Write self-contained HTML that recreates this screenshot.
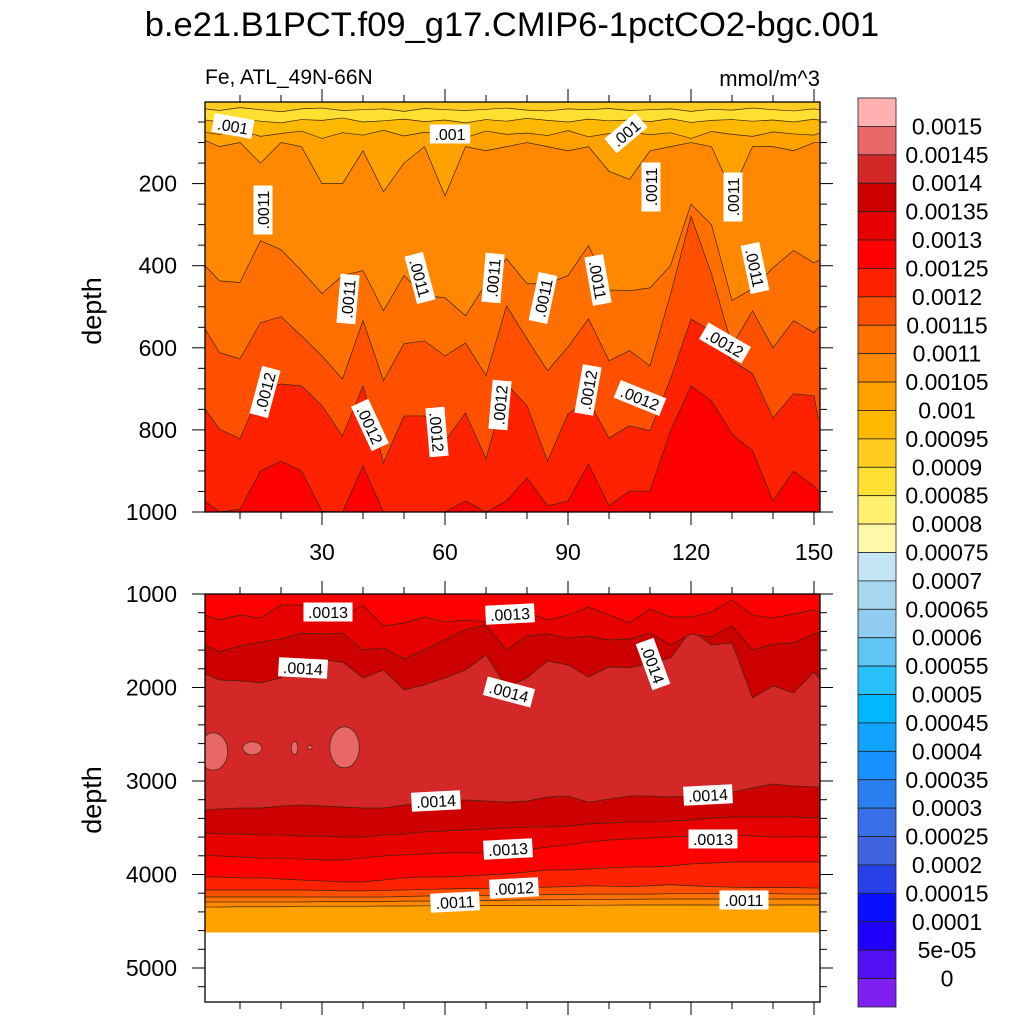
<!DOCTYPE html>
<html><head><meta charset="utf-8"><style>
html,body{margin:0;padding:0;background:#fff}
svg{display:block;font-family:"Liberation Sans",Arial,sans-serif}
</style></head><body>
<svg id="chart" xmlns="http://www.w3.org/2000/svg" width="1024" height="1024" viewBox="0 0 1024 1024">
<rect x="0" y="0" width="1024" height="1024" fill="#fff"/>
<text x="512" y="36" text-anchor="middle" font-size="34.5">b.e21.B1PCT.f09_g17.CMIP6-1pctCO2-bgc.001</text>
<text x="205" y="84" font-size="21">Fe, ATL_49N-66N</text>
<text x="820" y="86" text-anchor="end" font-size="22">mmol/m^3</text>
<text transform="translate(101,311) rotate(-90)" text-anchor="middle" font-size="27">depth</text>
<text transform="translate(101,800) rotate(-90)" text-anchor="middle" font-size="27">depth</text>
<defs>
<clipPath id="clipTop"><rect x="205" y="102" width="615" height="410"/></clipPath>
<clipPath id="clipBot"><rect x="205" y="594" width="615" height="408"/></clipPath>
</defs>
<g id="topPanel" clip-path="url(#clipTop)"></g>
<g id="botPanel" clip-path="url(#clipBot)"></g>
<g id="axes"></g>
<g id="labels"></g>
<g id="cbar"></g>
</svg>
<script>
// ---- data ----
const years=[1,5,10,15,20,25,30,35,40,45,50,55,60,65,70,75,80,85,90,95,100,105,110,115,120,125,130,135,140,145,150,151];
// upper panel contour depths (m)
const topS1=[18,22,15,20,25,18,16,22,20,18,24,17,20,22,19,16,21,23,18,20,17,22,20,18,24,19,21,16,20,23,18,20];
const topS2=[45,50,42,48,52,44,46,40,50,47,43,49,45,52,44,48,41,46,50,43,47,45,49,42,51,46,44,48,45,50,43,45];
const topS3=[75,80,70,85,78,72,90,76,82,70,84,75,79,88,72,80,77,83,71,86,78,74,81,76,90,73,80,85,74,79,82,78];
const topB105=[95,110,100,150,100,110,200,200,120,220,150,110,230,110,120,110,100,110,120,110,170,190,120,110,100,110,220,110,110,120,100,100];
const topB11=[400,437,441,339,361,412,468,424,412,510,424,473,478,522,444,383,444,444,424,351,459,461,454,400,250,300,485,456,405,363,393,388];
const topB115=[554,612,627,539,524,571,620,676,534,680,590,583,620,588,668,498,578,656,598,529,632,607,644,470,280,420,595,510,600,534,563,551];
const topB12=[749,798,822,705,688,693,741,815,693,880,766,766,827,759,871,688,741,876,761,729,820,790,802,676,530,560,632,663,771,712,717,771];
const topB125=[973,1000,993,900,876,900,998,1000,888,1000,1000,1000,1000,973,1000,973,917,985,973,883,985,949,949,802,693,729,810,851,973,900,937,949];
// deep panel contour depths (m)
const botB13u=[1225,1278,1225,1257,1118,1118,1193,1246,1118,1342,1310,1246,1299,1278,1299,1278,1193,1278,1225,1139,1225,1310,1160,1246,1246,1193,1064,1225,1257,1214,1171,1193];
const botB135u=[1545,1620,1556,1513,1481,1417,1428,1417,1599,1578,1695,1599,1492,1385,1332,1599,1449,1428,1471,1449,1492,1481,1417,1545,1428,1460,1342,1599,1535,1524,1428,1417];
const botB14u=[1856,1920,1930,1952,1898,1738,1706,1727,1898,1813,2027,1973,1898,1813,1652,1995,1898,1717,1759,1888,1781,1791,1738,1684,1385,1545,1524,2112,1984,2059,1834,1888];
const botB14l=[3310,3299,3289,3289,3267,3257,3267,3278,3289,3289,3257,3225,3203,3203,3214,3225,3214,3171,3160,3225,3193,3160,3160,3171,3160,3128,3118,3075,3032,3053,3064,3064];
const botB135l=[3556,3567,3567,3578,3578,3588,3588,3599,3599,3578,3567,3545,3535,3524,3513,3503,3492,3492,3481,3460,3449,3438,3438,3428,3417,3396,3385,3385,3385,3385,3396,3396];
const botB13l=[3791,3802,3813,3824,3824,3835,3845,3845,3824,3802,3791,3781,3770,3770,3770,3759,3738,3706,3684,3652,3631,3620,3610,3599,3588,3578,3578,3588,3599,3599,3599,3599];
const botB125l=[4027,4027,4037,4037,4048,4059,4069,4080,4080,4059,4037,4027,4027,4016,4005,3995,3973,3952,3952,3941,3930,3920,3920,3909,3888,3877,3866,3866,3866,3866,3866,3866];
const botB12l=[4166,4166,4166,4166,4166,4166,4170,4175,4175,4170,4166,4160,4155,4150,4150,4145,4140,4135,4130,4120,4125,4130,4120,4110,4120,4130,4135,4140,4140,4140,4145,4145];
const botB115l=[4241,4241,4241,4241,4241,4241,4241,4241,4241,4241,4235,4230,4230,4225,4225,4220,4220,4215,4215,4210,4210,4210,4210,4205,4205,4205,4205,4205,4205,4209,4209,4209];
const botB11l=[4294,4294,4294,4294,4294,4294,4290,4290,4290,4290,4285,4285,4280,4280,4278,4275,4273,4270,4270,4268,4266,4265,4263,4262,4262,4262,4262,4262,4262,4262,4262,4262];
const botB105l=[4348,4348,4345,4345,4345,4340,4340,4340,4340,4337,4337,4335,4335,4335,4333,4333,4330,4330,4330,4328,4328,4326,4326,4326,4326,4326,4326,4326,4326,4326,4326,4326];
const botDataBottom=4620;
// pink (>0.00145) patches
const patchYear=[3.5,13,23.3,27,35.5];
const patchDepth=[2684,2650,2647,2640,2640];
const patchHalfYears=[3.5,2.3,0.8,0.6,3.6];
const patchHalfDepth=[200,70,70,20,220];
// colorbar
const cbColors=["#FFB0B0","#E86868","#D42828","#CC0000","#E60000","#FF0000","#FF2200","#FF5000","#FF7000","#FF8800","#FFA200","#FFB800","#FFCC20","#FFE030","#FFF070","#FFF8A8","#C4E6F4","#A8D8F0","#90CCF0","#60C4F4","#28C0F8","#00B8FF","#10A4FF","#1890FF","#2880F0","#3870E8","#4064E0","#2840E8","#0810FF","#2000F8","#5010F0","#8020F0"];
const cbLabels=["0.0015","0.00145","0.0014","0.00135","0.0013","0.00125","0.0012","0.00115","0.0011","0.00105","0.001","0.00095","0.0009","0.00085","0.0008","0.00075","0.0007","0.00065","0.0006","0.00055","0.0005","0.00045","0.0004","0.00035","0.0003","0.00025","0.0002","0.00015","0.0001","5e-05","0"];
const xTickVals=[30,60,90,120,150];
const topYTickVals=[200,400,600,800,1000];
const botYTickVals=[1000,2000,3000,4000,5000];

// ---- scales ----
const NS="http://www.w3.org/2000/svg";
const L=205,R=820;
function xS(yr){return 199+4.1*yr;}
function yTop(d){return 101.5+0.4105*d;}
function yBot(d){return 594+(d-1000)*0.0935;}
function mk(tag,attrs,parent){const e=document.createElementNS(NS,tag);for(const k in attrs)e.setAttribute(k,attrs[k]);parent.appendChild(e);return e;}

function band(parent,depths,color,yFn,topY,name){
  const pts=years.map((yr,i)=>[Math.min(Math.max(xS(yr),L),R),yFn(depths[i])]);
  let d=`M${L},${topY} L${L},${pts[0][1]}`;
  pts.forEach(p=>{d+=` L${p[0]},${p[1]}`;});
  d+=` L${R},${pts[pts.length-1][1]} L${R},${topY} Z`;
  const f=mk('path',{d:d,fill:color},parent);
  
  
  let ld=`M${L},${pts[0][1]}`;pts.forEach(p=>{ld+=` L${p[0]},${p[1]}`;});ld+=` L${R},${pts[pts.length-1][1]}`;
  const ln=mk('path',{d:ld,fill:'none',stroke:'#3b2410','stroke-width':'0.7'},parent);
  
  
}

// top panel
const tp=document.getElementById('topPanel');
const tbg=mk('rect',{x:L,y:102,width:615,height:410,fill:'#FF0000'},tp);


band(tp,topB125,'#FF2200',yTop,100,'c00125');
band(tp,topB12,'#FF5000',yTop,100,'c0012');
band(tp,topB115,'#FF7000',yTop,100,'c00115');
band(tp,topB11,'#FF8800',yTop,100,'c0011');
band(tp,topB105,'#FFA200',yTop,100,'c00105');
band(tp,topS3,'#FFB800',yTop,100,'c001');
band(tp,topS2,'#FFE030',yTop,100,'c00085');
band(tp,topS1,'#FFCC20',yTop,100,'c0009');

// bottom panel
const bp=document.getElementById('botPanel');
const bbg=mk('rect',{x:L,y:594,width:615,height:yBot(botDataBottom)-594,fill:'#FFA200'},bp);


const seq=[[botB105l,'#FF8800','d00105'],[botB11l,'#FF7000','d0011'],[botB115l,'#FF5000','d00115'],[botB12l,'#FF2200','d0012'],[botB125l,'#FF0000','d00125'],[botB13l,'#E60000','d0013'],[botB135l,'#CC0000','d00135'],[botB14l,'#D42828','d0014-lower'],[botB14u,'#CC0000','d0014-upper'],[botB135u,'#E60000','d00135-upper'],[botB13u,'#FF0000','d0013-upper']];
seq.forEach(s=>band(bp,s[0],s[1],yBot,592,s[2]));
patchYear.forEach((yr,i)=>{
  const cx=xS(yr),cy=yBot(patchDepth[i]);
  const rx=patchHalfYears[i]*4.1,ry=patchHalfDepth[i]*0.0935;
  const e=mk('ellipse',{cx:cx,cy:cy,rx:rx,ry:ry,fill:'#E86868',stroke:'#3b2410','stroke-width':'0.7'},bp);
  
  
});

// axes
const ax=document.getElementById('axes');
function line(x1,y1,x2,y2,w,name){const l=mk('line',{x1:x1,y1:y1,x2:x2,y2:y2,stroke:'#000','stroke-width':w},ax);}
function txt(x,y,s,anchor,size,name){const t=mk('text',{x:x,y:y,'text-anchor':anchor,'font-size':size},ax);t.textContent=s;}
[[102,512],[594,1002]].forEach((p,pi)=>{
  const r=mk('rect',{x:L,y:p[0],width:R-L,height:p[1]-p[0],fill:'none',stroke:'#000','stroke-width':'1.3'},ax);
  
  
  for(let yr=10;yr<=150;yr+=10){const x=xS(yr);const major=yr%30===0;const len=major?13:7;
    line(x,p[1],x,p[1]+len,1,'x-tick');line(x,p[0],x,p[0]-len,1,'x-tick');}
});
xTickVals.forEach(v=>txt(xS(v),560,String(v),'middle',23,'x-tick-label'));
for(let d=50;d<=1000;d+=50){const y=yTop(d);const major=d%200===0;const len=major?13:7;
  line(L,y,L-len,y,1,'top-y-tick');line(R,y,R+len,y,1,'top-y-tick');}
topYTickVals.forEach(v=>txt(177,yTop(v)+8,String(v),'end',23,'top-y-tick-label'));
for(let d=1000;d<=5200;d+=200){const y=yBot(d);const major=d%1000===0;const len=major?13:7;
  line(L,y,L-len,y,1,'bottom-y-tick');line(R,y,R+len,y,1,'bottom-y-tick');}
botYTickVals.forEach(v=>txt(177,yBot(v)+8,String(v),'end',23,'bottom-y-tick-label'));

// contour labels
const lab=document.getElementById('labels');
const contourLabels=[[233,126,10,".001"],[450,134,0,".001"],[626,133,-40,".001"],[263,210,-90,".0011"],[651,187,-90,".0011"],[733,197,-90,".0011"],
[348,299,-85,".0011"],[420,278,75,".0011"],[493,278,-85,".0011"],[543,298,-78,".0011"],[598,280,80,".0011"],[755,268,78,".0011"],
[265,392,-75,".0012"],[370,425,65,".0012"],[437,432,85,".0012"],[500,405,-85,".0012"],[588,390,-80,".0012"],[640,398,22,".0012"],[725,343,30,".0012"],
[328,612,0,".0013"],[510,614,-3,".0013"],[303,668,3,".0014"],[509,692,15,".0014"],[653,664,70,".0014"],[436,801,-3,".0014"],[708,795,-3,".0014"],
[508,849,-3,".0013"],[713,839,0,".0013"],[514,888,-3,".0012"],[455,902,-3,".0011"],[744,900,0,".0011"]];
contourLabels.forEach(c=>{
  const g=mk('g',{transform:`translate(${c[0]},${c[1]}) rotate(${c[2]})`},lab);
  
  
  const w=c[3].length*8.6+6;
  mk('rect',{x:-w/2,y:-9.5,width:w,height:19,fill:'#fff'},g);
  const t=mk('text',{x:0,y:6,'text-anchor':'middle','font-size':16},g);t.textContent=c[3];
});

// colorbar
const cb=document.getElementById('cbar');
const cbTop=98,cbH=(1007-98)/32;
cbColors.forEach((c,i)=>{
  const r=mk('rect',{x:858,y:cbTop+i*cbH,width:38,height:cbH,fill:c,stroke:'#222','stroke-width':'0.8'},cb);
  
  
});
cbLabels.forEach((s,i)=>{
  const t=mk('text',{x:947,y:cbTop+(i+1)*cbH+8,'text-anchor':'middle','font-size':23},cb);
  t.textContent=s;
  
  
});
</script>
</body></html>
